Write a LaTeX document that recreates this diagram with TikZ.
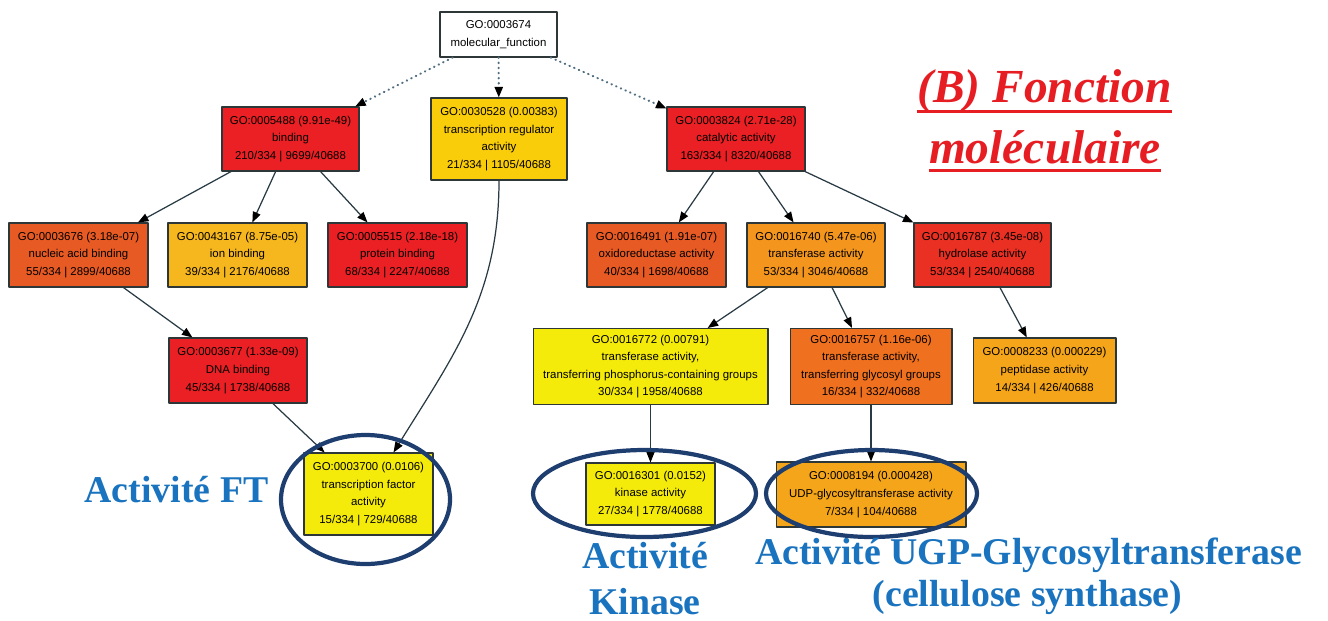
\documentclass[tikz,border=0pt]{standalone}
\usepackage{fontspec}
\newfontfamily\gosans{Liberation Sans}
\newfontfamily\tnrb{Liberation Serif Bold}
\newfontfamily\tnrbi{Liberation Serif Bold Italic}
\usetikzlibrary{arrows.meta}
\definecolor{edgecol}{RGB}{40,58,68}
\definecolor{dotcol}{RGB}{80,110,130}
\definecolor{boxline}{RGB}{45,55,55}
\definecolor{ringcol}{RGB}{30,62,112}
\definecolor{lblcol}{RGB}{26,115,190}
\definecolor{ttlcol}{RGB}{230,30,35}
\definecolor{cRed}{RGB}{234,32,36}
\definecolor{cHyd}{RGB}{233,48,34}
\definecolor{cOrR}{RGB}{232,90,35}
\definecolor{cOrM}{RGB}{239,112,30}
\definecolor{cOrg}{RGB}{244,150,30}
\definecolor{cAmb}{RGB}{245,165,25}
\definecolor{cIon}{RGB}{246,182,30}
\definecolor{cGld}{RGB}{250,205,10}
\definecolor{cYel}{RGB}{245,235,10}
\begin{document}
\begin{tikzpicture}[x=0.02cm,y=-0.02cm,line join=round,
  go/.style={draw=boxline,line width=0.6pt,align=center,inner sep=0pt,minimum height=1.28cm,font=\gosans\fontsize{6.5}{10}\selectfont},
  edge/.style={draw=edgecol,line width=0.7pt,-{Triangle[length=6pt,width=4.6pt,color=black]}},
  isa/.style={edge,draw=dotcol,line width=1.2pt,dash pattern=on 0.3pt off 2.6pt,line cap=round},
  ring/.style={draw=ringcol,line width=2.4pt},
  lbl/.style={text=lblcol,font=\tnrb\fontsize{21.5}{26}\selectfont,anchor=base,inner sep=0pt},
  ttl/.style={text=ttlcol,font=\tnrbi\fontsize{27}{33}\selectfont,anchor=base,inner sep=0pt},
  uline/.style={draw=ttlcol,line width=1.7pt}]
\path[use as bounding box] (0,0) rectangle (1328,620);
\node[go,fill=white,minimum width=2.34cm,minimum height=0.9cm] (root) at (498.5,34.5) {GO:0003674\\molecular\_function};
\node[go,fill=cRed,minimum width=2.74cm] (binding) at (290.5,139) {GO:0005488 (9.91e-49)\\binding\\210/334 | 9699/40688};
\node[go,fill=cGld,minimum width=2.72cm,minimum height=1.64cm] (treg) at (499,139) {GO:0030528 (0.00383)\\transcription regulator\\activity\\21/334 | 1105/40688};
\node[go,fill=cRed,minimum width=2.76cm] (catal) at (736,139) {GO:0003824 (2.71e-28)\\catalytic activity\\163/334 | 8320/40688};
\node[go,fill=cOrR,minimum width=2.78cm] (nucleic) at (78.5,255) {GO:0003676 (3.18e-07)\\nucleic acid binding\\55/334 | 2899/40688};
\node[go,fill=cIon,minimum width=2.78cm] (ion) at (237.5,255) {GO:0043167 (8.75e-05)\\ion binding\\39/334 | 2176/40688};
\node[go,fill=cRed,minimum width=2.78cm] (protein) at (397.5,255) {GO:0005515 (2.18e-18)\\protein binding\\68/334 | 2247/40688};
\node[go,fill=cOrR,minimum width=2.78cm] (oxido) at (656.5,255) {GO:0016491 (1.91e-07)\\oxidoreductase activity\\40/334 | 1698/40688};
\node[go,fill=cOrg,minimum width=2.76cm] (transf) at (816,255) {GO:0016740 (5.47e-06)\\transferase activity\\53/334 | 3046/40688};
\node[go,fill=cHyd,minimum width=2.74cm] (hydro) at (982.5,255) {GO:0016787 (3.45e-08)\\hydrolase activity\\53/334 | 2540/40688};
\node[go,fill=cRed,minimum width=2.76cm,minimum height=1.3cm] (dna) at (238,370.5) {GO:0003677 (1.33e-09)\\DNA binding\\45/334 | 1738/40688};
\node[go,fill=cYel,minimum width=4.7cm,minimum height=1.52cm] (phos) at (650.5,366.5) {GO:0016772 (0.00791)\\transferase activity,\\transferring phosphorus-containing groups\\30/334 | 1958/40688};
\node[go,fill=cOrM,minimum width=3.24cm,minimum height=1.52cm] (glyco) at (871,366.5) {GO:0016757 (1.16e-06)\\transferase activity,\\transferring glycosyl groups\\16/334 | 332/40688};
\node[go,fill=cAmb,minimum width=2.86cm,minimum height=1.3cm] (pept) at (1044.5,370.5) {GO:0008233 (0.000229)\\peptidase activity\\14/334 | 426/40688};
\node[go,fill=cYel,minimum width=2.58cm,minimum height=1.64cm] (tf) at (368.5,494) {GO:0003700 (0.0106)\\transcription factor\\activity\\15/334 | 729/40688};
\node[go,fill=cYel,minimum width=2.58cm,minimum height=1.24cm] (kinase) at (650.5,494) {GO:0016301 (0.0152)\\kinase activity\\27/334 | 1778/40688};
\node[go,fill=cAmb,minimum width=3.8cm,minimum height=1.3cm] (udp) at (871,494.5) {GO:0008194 (0.000428)\\UDP-glycosyltransferase activity\\7/334 | 104/40688};
\draw[isa] (root) -- (binding);
\draw[isa] (root) -- (treg);
\draw[isa] (root) -- (catal);
\draw[edge] (binding) -- (nucleic);
\draw[edge] (binding) -- (ion);
\draw[edge] (binding) -- (protein);
\draw[edge] (nucleic) -- (dna);
\draw[edge] (dna) -- (tf);
\draw[edge] (treg.south) .. controls +(0,115) and +(60,-97) .. ([xshift=0.5cm]tf.north);
\draw[edge] (catal) -- (oxido);
\draw[edge] (catal) -- (transf);
\draw[edge] (catal) -- (hydro);
\draw[edge] (transf) -- (phos);
\draw[edge] (transf) -- (glyco);
\draw[edge] (hydro) -- (pept);
\draw[edge] (phos) -- (kinase);
\draw[edge] (glyco) -- (udp);
\draw[ring] (365.5,499.5) ellipse [x radius=84.5,y radius=64.5];
\draw[ring] (644.5,493.5) ellipse [x radius=111.5,y radius=43.5];
\draw[ring] (871.5,493.5) ellipse [x radius=105.5,y radius=43.5];
\node[lbl] (lblFT) at (176.5,502) {Activité FT};
\node[lbl] (lblKinA) at (645,568) {Activité};
\node[lbl] (lblKinB) at (645,614) {Kinase};
\node[lbl] (lblUgpA) at (1028.5,564) {Activité UGP-Glycosyltransferase};
\node[lbl] (lblUgpB) at (1027.5,606) {(cellulose synthase)};
\node[ttl] (ttlA) at (1044.5,102) {(B) Fonction};
\node[ttl] (ttlB) at (1045,163) {moléculaire};
\draw[uline] ([yshift=-5.2pt]ttlA.base west) -- ([yshift=-5.2pt]ttlA.base east);
\draw[uline] ([yshift=-4pt]ttlB.base west) -- ([yshift=-4pt]ttlB.base east);
\end{tikzpicture}
\end{document}
